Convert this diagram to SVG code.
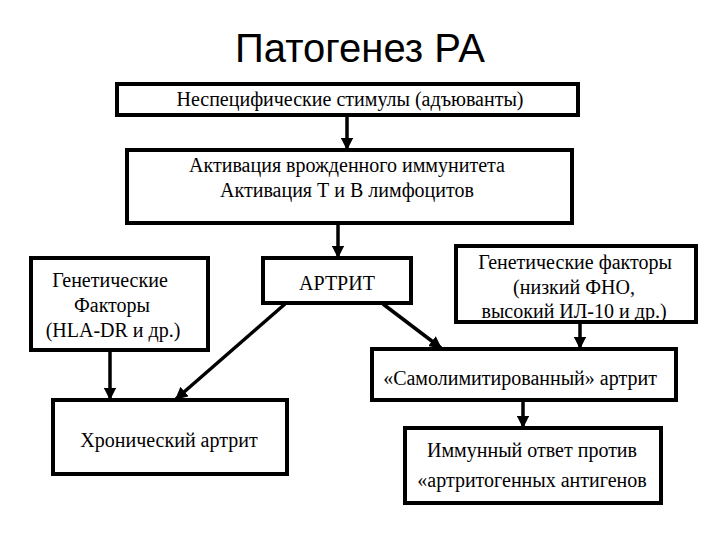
<svg xmlns="http://www.w3.org/2000/svg" width="720" height="540" viewBox="0 0 720 540">
<defs>
<style>
.box{fill:#fff;stroke:#000;stroke-width:4}
.t{font-family:"Liberation Serif","Times New Roman",serif;font-size:20px;fill:#000;text-anchor:middle}
.title{font-family:"Liberation Sans",Arial,sans-serif;font-size:40px;fill:#000;text-anchor:middle}
.c{stroke:#000;stroke-width:3.5;fill:none;marker-end:url(#ah)}
</style>
<marker id="ah" viewBox="0 0 10 10" refX="9" refY="5" markerWidth="3.6" markerHeight="3.6" orient="auto" markerUnits="strokeWidth">
<path d="M0,0 L10,5 L0,10 z" fill="#000"/>
</marker>
</defs>
<rect width="720" height="540" fill="#fff"/>
<text class="title" x="360" y="62">Патогенез РА</text>
<g id="connectors">
<line class="c" x1="347" y1="115" x2="347" y2="149"/>
<line class="c" x1="338" y1="223" x2="338" y2="257"/>
<line class="c" x1="110" y1="350" x2="110" y2="399"/>
<line class="c" x1="285" y1="304" x2="176" y2="399"/>
<line class="c" x1="383" y1="304" x2="441" y2="348"/>
<line class="c" x1="580" y1="322" x2="580" y2="348"/>
<line class="c" x1="523" y1="400" x2="523" y2="427"/>
</g>
<g id="n1"><rect class="box" x="117" y="84" width="461" height="31"/><text class="t" x="350" y="106">Неспецифические стимулы (адъюванты)</text></g>
<g id="n2"><rect class="box" x="127" y="150" width="445" height="73"/><text class="t" x="347" y="172">Активация врожденного иммунитета</text><text class="t" x="347" y="197">Активация Т и В лимфоцитов</text></g>
<g id="n3"><rect class="box" x="263" y="258" width="148" height="45"/><text class="t" x="337" y="290">АРТРИТ</text></g>
<g id="n4"><rect class="box" x="31" y="258" width="177" height="92"/><text class="t" x="110" y="287">Генетические</text><text class="t" x="112" y="312">Факторы</text><text class="t" x="113" y="337">(HLA-DR и др.)</text></g>
<g id="n5"><rect class="box" x="456" y="246" width="240" height="76"/><text class="t" x="575" y="269">Генетические факторы</text><text class="t" x="574" y="294">(низкий ФНО,</text><text class="t" x="574" y="318">высокий ИЛ-10 и др.)</text></g>
<g id="n6"><rect class="box" x="372" y="349" width="304" height="51"/><text class="t" x="520" y="385">«Самолимитированный» артрит</text></g>
<g id="n7"><rect class="box" x="53" y="400" width="234" height="74"/><text class="t" x="169" y="447">Хронический артрит</text></g>
<g id="n8"><rect class="box" x="405" y="428" width="256" height="75"/><text class="t" x="532" y="457">Иммунный ответ против</text><text class="t" x="532" y="487">«артритогенных антигенов</text></g>
</svg>
